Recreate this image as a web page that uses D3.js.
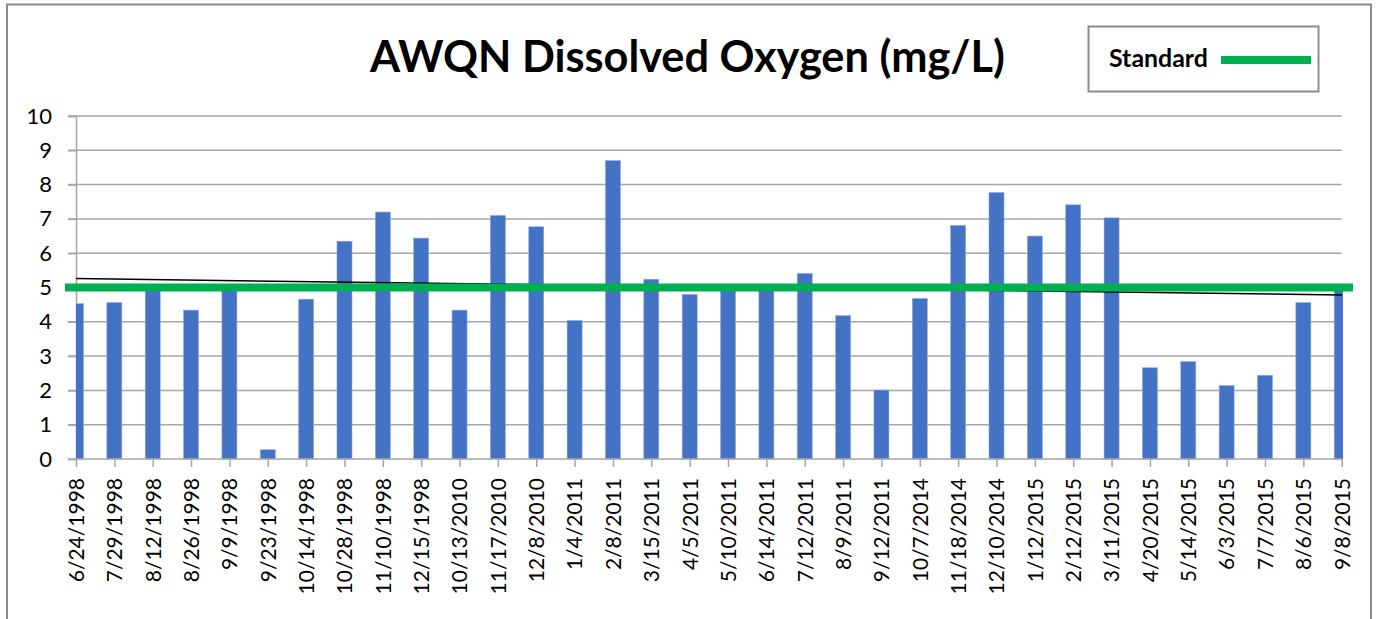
<!DOCTYPE html>
<html><head><meta charset="utf-8">
<script src="https://cdn.jsdelivr.net/npm/d3@7"></script>
<style>
html,body{margin:0;padding:0;background:#fff;}
svg{display:block;font-family:Lato,"Open Sans",sans-serif;}
</style></head>
<body>
<svg id="chart" width="1377" height="619"></svg>
<script>
const categories = ["6/24/1998","7/29/1998","8/12/1998","8/26/1998","9/9/1998","9/23/1998","10/14/1998","10/28/1998","11/10/1998","12/15/1998","10/13/2010","11/17/2010","12/8/2010","1/4/2011","2/8/2011","3/15/2011","4/5/2011","5/10/2011","6/14/2011","7/12/2011","8/9/2011","9/12/2011","10/7/2014","11/18/2014","12/10/2014","1/12/2015","2/12/2015","3/11/2015","4/20/2015","5/14/2015","6/3/2015","7/7/2015","8/6/2015","9/8/2015"];
const doValues = [4.53,4.56,5.0,4.34,5.0,0.27,4.66,6.35,7.20,6.44,4.34,7.10,6.77,4.04,8.70,5.24,4.80,5.0,5.0,5.41,4.18,2.01,4.68,6.81,7.77,6.50,7.41,7.03,2.66,2.84,2.14,2.44,4.56,4.95];
const standardValue = [5];
const yTicks = [0,1,2,3,4,5,6,7,8,9,10];
const titleText = "AWQN Dissolved Oxygen (mg/L)";
const legendLabel = "Standard";

const svg = d3.select("#chart");
const gridColor = "#a6a6a6";

function fit(sel, target){
  const fs = +sel.attr("font-size");
  const w = sel.node().getComputedTextLength();
  return fs*target/w;
}

// outer border
svg.append("rect").attr("x",7).attr("y",4.5).attr("width",1364).attr("height",660)
  .attr("fill","#fff").attr("stroke","#8c8c8c").attr("stroke-width",2);

const x = d3.scalePoint().domain(categories).range([76,1341.7]);
const y = d3.scaleLinear().domain([0,10]).range([459,116]);

// gridlines
svg.append("g").selectAll("line").data(yTicks.filter(d=>d>0)).join("line")
  .attr("x1",68).attr("x2",1341.7).attr("y1",d=>y(d)).attr("y2",d=>y(d))
  .attr("stroke",gridColor).attr("stroke-width",1.5);

// y axis
const yAxis = svg.append("g").attr("transform","translate(76,0)")
  .call(d3.axisLeft(y).tickValues(yTicks).tickSize(8).tickPadding(16).tickFormat(d3.format("d")));
yAxis.select(".domain").attr("stroke",gridColor).attr("stroke-width",1.5);
yAxis.selectAll(".tick line").attr("stroke",gridColor).attr("stroke-width",1.5);
yAxis.selectAll("text").attr("font-size",22).attr("fill","#000").attr("font-family","Lato");

// bars (clipped to plot)
svg.append("clipPath").attr("id","plotclip").append("rect")
  .attr("x",76).attr("y",100).attr("width",1343-76).attr("height",360);
const bw = 15;
svg.append("g").attr("clip-path","url(#plotclip)").selectAll("rect").data(doValues).join("rect")
  .attr("x",(d,i)=>x(categories[i])-bw/2).attr("width",bw)
  .attr("y",d=>y(d)).attr("height",d=>y(0)-y(d))
  .attr("fill","#4472c4").attr("stroke","#8faadc").attr("stroke-width",0.6);

// x axis
const xAxis = svg.append("g").attr("transform","translate(0,459)")
  .call(d3.axisBottom(x).tickSize(8).tickSizeOuter(0).tickPadding(0));
xAxis.select(".domain").attr("stroke",gridColor).attr("stroke-width",1.5).attr("d","M68,0H1341.7");
xAxis.selectAll(".tick line").attr("stroke",gridColor).attr("stroke-width",1.5);
xAxis.selectAll(".tick text")
  .attr("font-size",21).attr("fill","#000").attr("font-family","Lato")
  .attr("text-anchor","end").attr("dy","0.35em")
  .attr("transform","translate(0,19) rotate(-90)").attr("x",0).attr("y",0);

// trendline (linear least squares over category index)
const n = doValues.length;
const idx = d3.range(1,n+1);
const mx = d3.mean(idx), my = d3.mean(doValues);
const slope = d3.sum(idx,(v,i)=>(v-mx)*(doValues[i]-my)) / d3.sum(idx,v=>(v-mx)*(v-mx));
const icpt = my - slope*mx;
svg.append("line")
  .attr("x1",x(categories[0])).attr("x2",x(categories[n-1]))
  .attr("y1",y(icpt+slope*1)).attr("y2",y(icpt+slope*n))
  .attr("stroke","#000").attr("stroke-width",1.5);

// standard line
svg.append("g").selectAll("line").data(standardValue).join("line")
  .attr("x1",65).attr("x2",1353).attr("y1",d=>y(d)).attr("y2",d=>y(d))
  .attr("stroke","#00b050").attr("stroke-width",8);

// title
const title = svg.append("text").attr("x",687.5).attr("y",72).attr("text-anchor","middle")
  .attr("font-weight","bold").attr("font-size",40).attr("font-family","Lato").attr("fill","#000")
  .text(titleText);
title.attr("font-size", fit(title, 635));

// legend
svg.append("rect").attr("x",1088.5).attr("y",26.5).attr("width",230).attr("height",65)
  .attr("fill","#fff").attr("stroke","#8c8c8c").attr("stroke-width",2);
const lt = svg.append("text").attr("x",1109).attr("y",67).attr("font-weight","bold")
  .attr("font-size",20).attr("font-family","Lato").attr("fill","#000").text(legendLabel);
lt.attr("font-size", fit(lt, 99));
svg.append("line").attr("x1",1221).attr("x2",1311).attr("y1",60).attr("y2",60)
  .attr("stroke","#00b050").attr("stroke-width",8);
</script>
</body></html>
